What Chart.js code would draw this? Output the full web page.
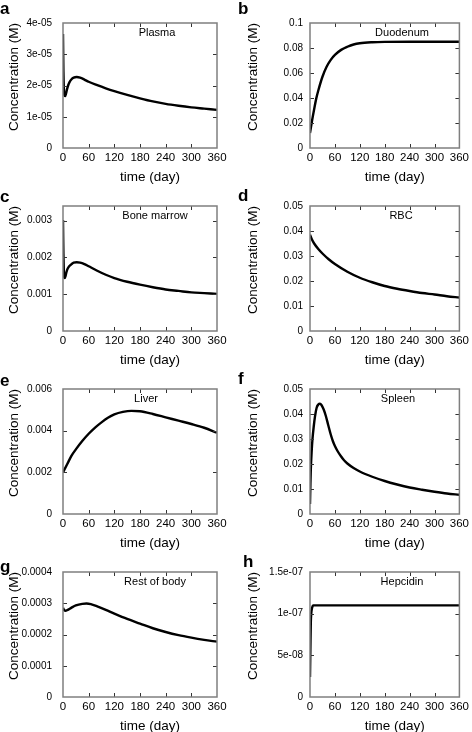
<!DOCTYPE html>
<html><head><meta charset="utf-8">
<script src="https://cdn.jsdelivr.net/npm/chart.js@4.4.1/dist/chart.umd.min.js"></script>
<style>
html,body{margin:0;padding:0;background:#fff;}
#wrap{position:relative;width:472px;height:732px;overflow:hidden;background:#fff;}
#wrap canvas{position:absolute;display:block;}
</style></head><body><div id="wrap"></div>
<script>
// ---------- DATA ----------
const xTicks = [0, 60, 120, 180, 240, 300, 360];

const plasmaDays = [0,0.5,1,2,3,4,5,7,9,12,15,20,25,32,40,50,60,80,100,120,150,180,210,240,270,300,330,360];
const plasmaConc = [3.65e-5,3.0e-5,2.45e-5,1.9e-5,1.72e-5,1.67e-5,1.66e-5,1.74e-5,1.86e-5,2.0e-5,2.1e-5,2.2e-5,2.25e-5,2.27e-5,2.25e-5,2.19e-5,2.12e-5,2.01e-5,1.91e-5,1.82e-5,1.7e-5,1.59e-5,1.49e-5,1.41e-5,1.35e-5,1.3e-5,1.26e-5,1.22e-5];
const plasmaYTicks = [0, 1e-5, 2e-5, 3e-5, 4e-5];
const plasmaYLabels = ['0', '1e-05', '2e-05', '3e-05', '4e-05'];

const duodenumDays = [0,5,10,15,20,30,40,50,60,75,90,105,120,150,180,240,300,360];
const duodenumConc = [0.012,0.022,0.031,0.0395,0.046,0.057,0.065,0.0705,0.0745,0.0785,0.081,0.0828,0.0838,0.0846,0.0849,0.085,0.085,0.085];
const duodenumYTicks = [0, 0.02, 0.04, 0.06, 0.08, 0.1];
const duodenumYLabels = ['0', '0.02', '0.04', '0.06', '0.08', '0.1'];

const marrowDays = [0,0.5,1,2,3,4,6,8,11,15,20,25,32,40,50,60,80,100,120,150,180,210,240,270,300,330,360];
const marrowConc = [0.00302,0.0025,0.0021,0.0016,0.00146,0.00144,0.0015,0.0016,0.0017,0.00177,0.00182,0.00186,0.00187,0.00186,0.00182,0.00176,0.00164,0.00153,0.00144,0.00134,0.00126,0.00119,0.00113,0.00109,0.00105,0.00103,0.00101];
const marrowYTicks = [0, 0.001, 0.002, 0.003];
const marrowYLabels = ['0', '0.001', '0.002', '0.003'];

const rbcDays = [0,5,10,20,30,45,60,90,120,150,180,210,240,270,300,330,360];
const rbcConc = [0.0385,0.0365,0.035,0.0328,0.031,0.0287,0.0268,0.0237,0.0213,0.0195,0.018,0.0169,0.016,0.0152,0.0146,0.0139,0.0134];
const rbcYTicks = [0, 0.01, 0.02, 0.03, 0.04, 0.05];
const rbcYLabels = ['0', '0.01', '0.02', '0.03', '0.04', '0.05'];

const liverDays = [0,10,20,30,45,60,75,90,105,120,140,160,180,210,240,270,300,330,360];
const liverConc = [0.002,0.0024,0.0028,0.0031,0.0035,0.00385,0.00415,0.0044,0.00462,0.00478,0.0049,0.00495,0.00493,0.0048,0.00464,0.00448,0.00432,0.00414,0.0039];
const liverYTicks = [0, 0.002, 0.004, 0.006];
const liverYLabels = ['0', '0.002', '0.004', '0.006'];

const spleenDays = [0,1,2,4,6,9,12,16,20,24,28,33,38,44,50,55,60,67,75,82,90,105,120,150,180,210,240,270,300,330,360];
const spleenConc = [0.004,0.012,0.018,0.025,0.030,0.035,0.039,0.0425,0.0438,0.0441,0.0435,0.0418,0.0393,0.0355,0.0318,0.0292,0.0272,0.025,0.023,0.0215,0.0202,0.0184,0.017,0.0149,0.0132,0.0118,0.0106,0.0097,0.0089,0.0082,0.0077];
const spleenYTicks = [0, 0.01, 0.02, 0.03, 0.04, 0.05];
const spleenYLabels = ['0', '0.01', '0.02', '0.03', '0.04', '0.05'];

const restDays = [0,3,6,10,20,30,45,55,65,80,100,120,150,180,210,240,270,300,330,360];
const restConc = [0.000285,0.000278,0.000276,0.000278,0.000286,0.000293,0.000298,0.000299,0.000297,0.00029,0.000279,0.000267,0.00025,0.000235,0.00022,0.000208,0.000198,0.00019,0.000183,0.000177];
const restYTicks = [0, 0.0001, 0.0002, 0.0003, 0.0004];
const restYLabels = ['0', '0.0001', '0.0002', '0.0003', '0.0004'];

const hepcidinDays = [0,1,2,3,5,8,20,360];
const hepcidinConc = [2.4e-8,6e-8,9e-8,1.0e-7,1.07e-7,1.1e-7,1.1e-7,1.1e-7];
const hepcidinYTicks = [0, 5e-8, 1e-7, 1.5e-7];
const hepcidinYLabels = ['0', '5e-08', '1e-07', '1.5e-07'];

const panelLetters = ['a','b','c','d','e','f','g','h'];
const panelNames = ['Plasma','Duodenum','Bone marrow','RBC','Liver','Spleen','Rest of body','Hepcidin'];
const yMaxes = [4e-5, 0.1, 0.0034, 0.05, 0.006, 0.05, 0.0004, 1.5e-7];

// ---------- LAYOUT / STYLE ----------
const FONT = "'Liberation Sans', Arial, Helvetica, sans-serif";
const CW = 236, CH = 192, ROW_H = 183;
const colLayout = [
  {yW: 63, padRight: 19, yPad: 11, yTitlePad: 8},
  {yW: 74, padRight: 8, yPad: 7, yTitlePad: 11}
];
// positions relative to each panel canvas
const letterPos = [[0,14],[238,14],[0,19],[238,18],[0,20],[238,18],[0,23],[243,18]];
const namePos = [[157,33],[166,33],[155,33],[165,33],[146,33],[162,33],[155,33],[166,33]];

const series = [
  [plasmaDays, plasmaConc, plasmaYTicks, plasmaYLabels],
  [duodenumDays, duodenumConc, duodenumYTicks, duodenumYLabels],
  [marrowDays, marrowConc, marrowYTicks, marrowYLabels],
  [rbcDays, rbcConc, rbcYTicks, rbcYLabels],
  [liverDays, liverConc, liverYTicks, liverYLabels],
  [spleenDays, spleenConc, spleenYTicks, spleenYLabels],
  [restDays, restConc, restYTicks, restYLabels],
  [hepcidinDays, hepcidinConc, hepcidinYTicks, hepcidinYLabels]
];

const decor = {
  id: 'decor',
  afterDatasetsDraw(chart, args, o) {
    const {ctx, chartArea: a} = chart;
    const x = chart.scales.x, y = chart.scales.y;
    ctx.save();
    // inward mirrored ticks
    ctx.strokeStyle = '#333';
    ctx.lineWidth = 1;
    ctx.beginPath();
    const TL = 4;
    x.ticks.forEach(t => {
      const px = Math.round(x.getPixelForValue(t.value)) + 0.5;
      if (px <= a.left + 1 || px >= a.right - 1) return;
      ctx.moveTo(px, a.bottom); ctx.lineTo(px, a.bottom - TL);
      ctx.moveTo(px, a.top); ctx.lineTo(px, a.top + TL);
    });
    y.ticks.forEach(t => {
      const py = Math.round(y.getPixelForValue(t.value)) + 0.5;
      if (py <= a.top + 1 || py >= a.bottom - 1) return;
      ctx.moveTo(a.left, py); ctx.lineTo(a.left + TL, py);
      ctx.moveTo(a.right, py); ctx.lineTo(a.right - TL, py);
    });
    ctx.stroke();
    // frame
    ctx.strokeStyle = '#7f7f7f';
    ctx.lineWidth = 1.5;
    ctx.strokeRect(a.left, a.top, a.right - a.left, a.bottom - a.top);
    // texts
    ctx.fillStyle = '#000';
    ctx.font = 'bold 17px ' + FONT;
    ctx.textAlign = 'left';
    ctx.textBaseline = 'alphabetic';
    ctx.fillText(o.letter, o.letterX, o.letterY);
    ctx.font = '11px ' + FONT;
    ctx.textAlign = 'center';
    ctx.textBaseline = 'middle';
    ctx.fillText(o.name, o.nameX, o.nameY);
    ctx.font = '13.5px ' + FONT;
    ctx.textBaseline = 'alphabetic';
    ctx.fillText('time (day)', (a.left + a.right) / 2 + 10, 181);
    ctx.restore();
  }
};

const wrap = document.getElementById('wrap');
series.forEach((s, i) => {
  const col = i % 2, row = Math.floor(i / 2);
  const L = colLayout[col];
  const [days, conc, yt, yl] = s;
  const cv = document.createElement('canvas');
  cv.width = CW; cv.height = CH;
  cv.style.left = (col * 236) + 'px';
  cv.style.top = (row * ROW_H) + 'px';
  cv.style.width = CW + 'px'; cv.style.height = CH + 'px';
  wrap.appendChild(cv);
  new Chart(cv, {
    type: 'line',
    data: {
      datasets: [{
        data: days.map((d, k) => ({x: d, y: conc[k]})),
        borderColor: '#000',
        borderWidth: 2.4,
        pointRadius: 0,
        fill: false,
        cubicInterpolationMode: 'monotone'
      }]
    },
    options: {
      responsive: false,
      devicePixelRatio: 1,
      animation: false,
      events: [],
      layout: {padding: {left: 0, right: L.padRight, top: 23, bottom: 0}},
      plugins: {
        legend: {display: false},
        tooltip: {enabled: false},
        decor: {
          letter: panelLetters[i], letterX: letterPos[i][0] - col * 236, letterY: letterPos[i][1],
          name: panelNames[i], nameX: namePos[i][0], nameY: namePos[i][1]
        }
      },
      scales: {
        x: {
          type: 'linear', min: 0, max: 360,
          afterBuildTicks: sc => { sc.ticks = xTicks.map(v => ({value: v})); },
          afterFit: sc => { sc.height = CH - 148; },
          grid: {display: false, drawTicks: false},
          border: {display: false},
          ticks: {autoSkip: false, maxRotation: 0, padding: 3, color: '#000',
                  font: {family: FONT, size: 11.5}, callback: v => String(v)}
        },
        y: {
          type: 'linear', min: 0, max: yMaxes[i],
          afterBuildTicks: sc => { sc.ticks = yt.map(v => ({value: v})); },
          afterFit: sc => { sc.width = L.yW; },
          grid: {display: false, drawTicks: false},
          border: {display: false},
          ticks: {autoSkip: false, padding: L.yPad, color: '#000',
                  font: {family: FONT, size: 10}, callback: (v, k) => yl[k]},
          title: {display: true, text: 'Concentration (M)', align: 'end', color: '#000',
                  padding: {top: L.yTitlePad, bottom: 0},
                  font: {family: FONT, size: 13.5, lineHeight: 1}}
        }
      }
    },
    plugins: [decor]
  });
});
</script>
</body></html>
